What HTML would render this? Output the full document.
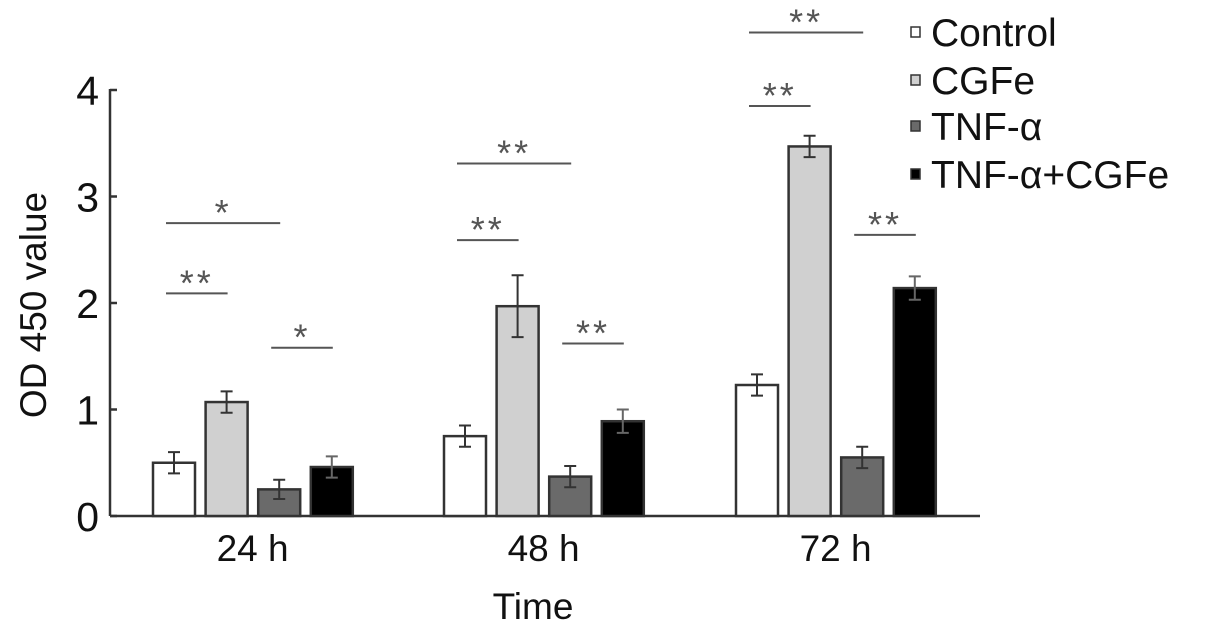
<!DOCTYPE html>
<html><head><meta charset="utf-8"><style>
html,body{margin:0;padding:0;background:#fff;}
svg{display:block;font-family:"Liberation Sans",Arial,sans-serif;}
</style></head><body>
<svg id="chart" width="1205" height="638" viewBox="0 0 1205 638" xmlns="http://www.w3.org/2000/svg"></svg>
<script>
const categories = ["24 h","48 h","72 h"];
const seriesNames = ["Control","CGFe","TNF-\u03b1","TNF-\u03b1+CGFe"];
const controlVals = [0.50, 0.75, 1.23];
const cgfeVals = [1.07, 1.97, 3.47];
const tnfVals = [0.25, 0.37, 0.55];
const comboVals = [0.46, 0.89, 2.14];
const controlErr = [0.10, 0.10, 0.10];
const cgfeErr = [0.10, 0.29, 0.10];
const tnfErr = [0.09, 0.10, 0.10];
const comboErr = [0.10, 0.11, 0.11];
const yTicks = [0,1,2,3,4];
const sigGroup = [0,0,0,1,1,1,2,2,2];
const sigFrom = [0,0,2,0,0,2,0,0,2];
const sigTo = [2,1,3,2,1,3,2,1,3];
const sigLevel = [2.75,2.09,1.58,3.31,2.59,1.62,4.54,3.85,2.64];
const sigLabel = ["*","**","*","**","**","**","**","**","**"];

const NS="http://www.w3.org/2000/svg";
const svg=document.getElementById('chart');
function mk(t,a){const e=document.createElementNS(NS,t);for(const k in a)e.setAttribute(k,a[k]);svg.appendChild(e);return e;}
const y0=516, pxPerUnit=106.5, axX=110, axEnd=980;
const yS=v=>y0-v*pxPerUnit;
const groupStart=[153,444,736], barW=42, step=52.6;
const xS=(g,s)=>groupStart[g]+s*step;
const fills=["#ffffff","#d0d0d0","#6a6a6a","#000000"];
const vals=[controlVals,cgfeVals,tnfVals,comboVals];
const errs=[controlErr,cgfeErr,tnfErr,comboErr];
const keys=["control","cgfe","tnf","combo"];

let e=mk('line',{x1:axX,y1:yS(4)-1,x2:axX,y2:y0,stroke:'#333','stroke-width':2.5});


e=mk('line',{x1:axX,y1:y0,x2:axEnd,y2:y0,stroke:'#333','stroke-width':2.5});


yTicks.forEach(t=>{
  const y=yS(t);
  let l=mk('line',{x1:axX,y1:y,x2:axX+7,y2:y,stroke:'#333','stroke-width':2.5});
  
  
  let tx=mk('text',{x:99,y:y+15,'font-size':41,'text-anchor':'end',fill:'#111'});
  tx.textContent=t;
  
  
});
for(let g=0;g<categories.length;g++){
  for(let s=0;s<4;s++){
    const v=vals[s][g], x=xS(g,s), y=yS(v);
    let r=mk('rect',{x:x,y:y,width:barW,height:y0-y,fill:fills[s],stroke:'#333','stroke-width':2.5});
    
    
    const cx=x+barW/2, yt=yS(v+errs[s][g]), yb=yS(v-errs[s][g]);
    const ec=s===3?'#666':'#333';
    let p=mk('path',{d:`M${cx-6} ${yt}H${cx+6}M${cx} ${yt}V${yb}M${cx-6} ${yb}H${cx+6}`,stroke:ec,'stroke-width':2,fill:'none'});
    
    
  }
  let t=mk('text',{x:xS(g,1)+barW/2+26,y:561,'font-size':37,'text-anchor':'middle',fill:'#111'});
  t.textContent=categories[g];
  
  
}
for(let i=0;i<sigGroup.length;i++){
  const g=sigGroup[i];
  const x1=xS(g,sigFrom[i])+13, x2=xS(g,sigTo[i])+22;
  const y=yS(sigLevel[i]);
  let l=mk('line',{x1:x1,y1:y,x2:x2,y2:y,stroke:'#555','stroke-width':2});
  
  
  let t=mk('text',{x:(x1+x2)/2,y:y+2,'font-size':36,'letter-spacing':3,'text-anchor':'middle',fill:'#555'});
  t.textContent=sigLabel[i];
  
  
}
let yt=mk('text',{x:0,y:0,'font-size':37,'text-anchor':'middle',fill:'#111',transform:'translate(46 305) rotate(-90)'});
yt.textContent='OD 450 value';


let xt=mk('text',{x:533,y:619,'font-size':37,'text-anchor':'middle',fill:'#111'});
xt.textContent='Time';


const legY=[32,80,126,174];
for(let s=0;s<4;s++){
  let r=mk('rect',{x:911,y:legY[s]-5,width:9,height:10,fill:fills[s],stroke:'#333','stroke-width':1.5});
  
  
  let t=mk('text',{x:931,y:legY[s]+14,'font-size':39,fill:'#111'});
  t.textContent=seriesNames[s];
  
  
}
</script>
</body></html>
